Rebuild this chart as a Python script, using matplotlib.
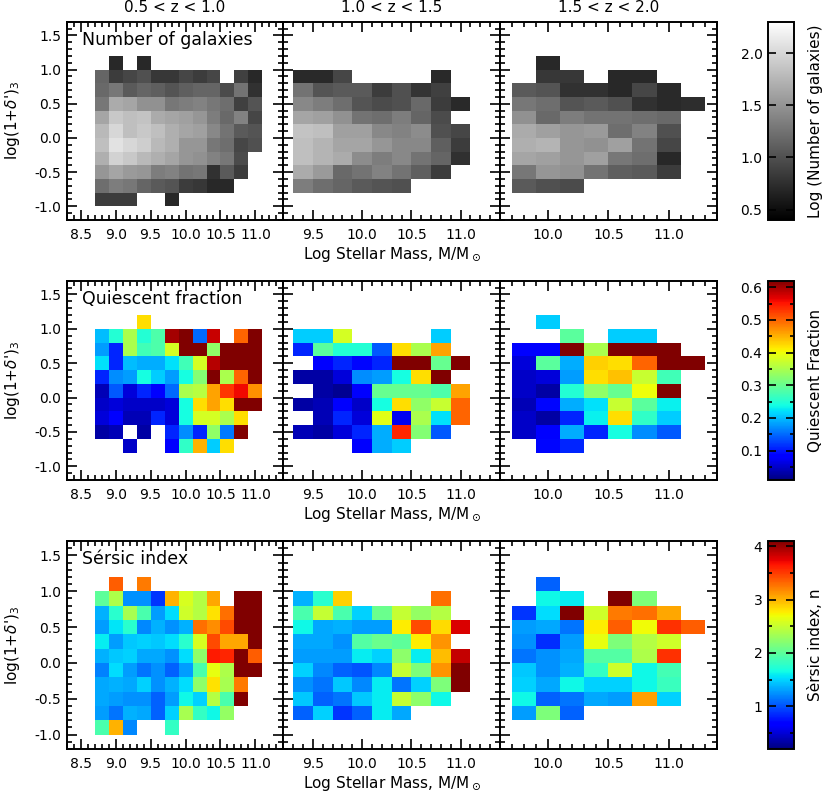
import numpy as np
import matplotlib
matplotlib.use('Agg')
import matplotlib.pyplot as plt
from matplotlib.ticker import MultipleLocator, FormatStrFormatter

N = np.nan

# ---------------- bins ----------------
mass_edges = [np.linspace(8.7, 11.1, 13), np.linspace(9.3, 11.1, 10), np.linspace(9.7, 11.3, 9)]
dens_edges = np.linspace(1.2, -1.0, 12)   # rows listed top -> bottom
z_labels = ['0.5 < z < 1.0', '1.0 < z < 1.5', '1.5 < z < 2.0']
xlims = [(8.3, 11.4), (9.2, 11.4), (9.6, 11.4)]

# ---------------- log(number of galaxies) ----------------
count_z1 = [
    [N, 0.70, N, 0.70, N, N, N, N, N, N, N, N],
    [1.15, 0.85, 0.92, 1.00, 0.81, 0.81, 0.92, 0.85, 0.92, N, 0.88, 0.70],
    [1.18, 1.29, 1.07, 1.15, 1.11, 1.03, 1.11, 1.15, 1.15, 0.96, 1.26, 0.77],
    [1.29, 1.67, 1.63, 1.48, 1.48, 1.29, 1.33, 1.37, 1.29, 1.22, 0.88, 1.03],
    [1.63, 1.89, 1.82, 1.85, 1.67, 1.63, 1.59, 1.52, 1.33, 1.18, 1.37, 0.92],
    [1.78, 2.00, 1.82, 1.89, 1.82, 1.70, 1.63, 1.59, 1.41, 1.26, 1.07, 1.03],
    [1.82, 2.08, 2.00, 1.93, 1.78, 1.70, 1.52, 1.52, 1.29, 1.22, 0.92, 1.00],
    [1.70, 1.96, 1.89, 1.78, 1.70, 1.63, 1.52, 1.48, 1.37, 1.29, 0.96, N],
    [1.52, 1.63, 1.55, 1.52, 1.33, 1.37, 1.26, 1.29, 0.77, 1.07, 0.85, N],
    [1.22, 1.33, 1.29, 1.15, 1.07, 1.03, 0.85, 0.81, 0.70, 0.70, N, N],
    [0.85, 0.85, 0.85, N, N, 0.70, N, N, N, N, N, N],
]
count_z2 = [
    [N, N, N, N, N, N, N, N, N],
    [0.71, 0.71, 0.92, N, N, N, N, 0.71, N],
    [1.26, 1.03, 1.07, 1.07, 0.85, 1.00, 0.79, 0.88, N],
    [1.41, 1.33, 1.22, 1.03, 0.96, 1.00, 1.18, 0.85, 0.71],
    [1.63, 1.59, 1.48, 1.26, 1.22, 1.33, 1.15, 0.96, N],
    [1.85, 1.82, 1.59, 1.59, 1.41, 1.37, 1.44, 1.00, 0.92],
    [1.82, 1.74, 1.63, 1.63, 1.52, 1.41, 1.41, 1.11, 0.85],
    [1.82, 1.74, 1.67, 1.44, 1.33, 1.41, 1.26, 1.15, 0.76],
    [1.67, 1.55, 1.18, 1.26, 1.37, 1.26, 1.11, 0.85, N],
    [1.33, 1.22, 1.15, 1.07, 1.03, 1.00, N, N, N],
    [N, N, N, N, N, N, N, N, N],
]
count_z3 = [
    [N, 0.70, N, N, N, N, N, N],
    [N, 0.81, 0.81, N, 0.70, 0.70, N, N],
    [1.07, 1.03, 0.77, 0.77, 0.70, 0.92, 0.71, N],
    [1.29, 1.22, 1.03, 1.07, 1.00, 0.77, 0.71, 0.74],
    [1.48, 1.18, 1.33, 1.26, 1.26, 1.22, 1.18, N],
    [1.67, 1.59, 1.52, 1.55, 1.22, 1.37, 1.00, N],
    [1.70, 1.74, 1.52, 1.48, 1.59, 1.26, 0.92, N],
    [1.63, 1.59, 1.52, 1.59, 1.29, 1.22, 0.70, N],
    [1.29, 1.52, 1.48, 1.26, 1.11, 1.07, 0.85, N],
    [1.07, 1.00, 0.96, N, N, N, N, N],
    [N, N, N, N, N, N, N, N],
]

# ---------------- quiescent fraction ----------------
qf_z1 = [
    [N, N, N, 0.42, N, N, N, N, N, N, N, N],
    [0.20, 0.25, 0.35, 0.25, 0.28, 0.60, 0.65, 0.15, 0.58, N, 0.50, 0.65],
    [0.18, 0.11, 0.35, 0.27, 0.28, 0.38, 0.65, 0.65, 0.33, 0.65, 0.65, 0.65],
    [0.22, 0.11, 0.20, 0.19, 0.19, 0.22, 0.27, 0.38, 0.59, 0.65, 0.65, 0.65],
    [0.11, 0.17, 0.18, 0.24, 0.21, 0.18, 0.24, 0.32, 0.65, 0.35, 0.50, 0.65],
    [0.04, 0.14, 0.06, 0.11, 0.08, 0.15, 0.35, 0.36, 0.46, 0.53, 0.56, 0.47],
    [0.05, 0.06, 0.05, 0.05, 0.05, 0.06, 0.24, 0.42, 0.46, 0.42, 0.65, 0.65],
    [0.06, 0.08, 0.04, 0.04, 0.11, 0.06, 0.24, 0.38, 0.38, 0.35, 0.42, N],
    [0.03, 0.04, N, 0.03, N, 0.11, 0.17, 0.11, 0.33, 0.16, 0.65, N],
    [N, N, 0.05, N, N, 0.08, 0.26, 0.45, 0.21, 0.42, N, N],
    [N, N, N, N, N, N, N, N, N, N, N, N],
]
qf_z2 = [
    [N, N, N, N, N, N, N, N, N],
    [0.21, 0.21, 0.38, N, N, N, N, 0.21, N],
    [0.11, 0.29, 0.25, 0.25, 0.14, 0.42, 0.35, 0.46, N],
    [N, 0.08, 0.11, 0.09, 0.11, 0.65, 0.65, 0.30, 0.65],
    [0.03, 0.03, 0.06, 0.17, 0.18, 0.24, 0.42, 0.65, N],
    [N, 0.03, 0.02, 0.08, 0.30, 0.30, 0.30, 0.28, 0.46],
    [0.03, 0.04, 0.08, 0.05, 0.24, 0.42, 0.33, 0.37, 0.50],
    [N, 0.04, 0.11, 0.06, 0.39, 0.07, 0.35, 0.22, 0.50],
    [0.04, 0.03, 0.06, 0.11, 0.19, 0.54, 0.32, 0.14, N],
    [N, N, N, 0.08, 0.19, 0.21, N, N, N],
    [N, N, N, N, N, N, N, N, N],
]
qf_z3 = [
    [N, 0.21, N, N, N, N, N, N],
    [N, N, 0.29, N, 0.21, 0.21, N, N],
    [0.08, 0.08, 0.65, 0.35, 0.65, 0.65, 0.62, N],
    [0.06, 0.29, 0.19, 0.43, 0.42, 0.50, 0.65, 0.65],
    [0.05, 0.06, 0.18, 0.42, 0.44, 0.37, 0.27, N],
    [0.05, 0.03, 0.25, 0.33, 0.30, 0.40, 0.65, N],
    [0.04, 0.09, 0.19, 0.22, 0.37, 0.29, 0.23, N],
    [0.05, 0.03, 0.11, 0.23, 0.42, 0.26, 0.21, N],
    [0.05, 0.08, 0.19, 0.11, 0.24, 0.17, 0.14, N],
    [N, 0.09, 0.11, N, N, N, N, N],
    [N, N, N, N, N, N, N, N],
]

# ---------------- Sersic index ----------------
sersic_z1 = [
    [N, 3.36, N, 3.24, N, N, N, N, N, N, N, N],
    [2.00, 2.38, 1.25, 1.25, 0.90, 3.01, 2.58, 2.42, 3.05, N, 4.30, 4.30],
    [1.37, 1.76, 2.35, 1.92, 1.29, 1.53, 2.54, 2.42, 2.81, 3.28, 4.30, 4.30],
    [1.29, 1.57, 1.76, 1.21, 1.37, 1.25, 1.37, 3.28, 3.16, 3.44, 4.30, 4.30],
    [1.60, 1.29, 1.45, 1.49, 1.45, 1.53, 1.76, 2.58, 3.44, 3.05, 3.05, 4.30],
    [1.37, 1.45, 1.49, 1.33, 1.33, 1.25, 1.53, 2.23, 3.63, 3.59, 4.30, 3.36],
    [1.18, 1.53, 1.29, 1.14, 1.25, 1.06, 1.29, 1.92, 2.66, 2.38, 4.30, 4.30],
    [1.33, 1.37, 1.33, 1.49, 1.25, 1.37, 1.53, 2.23, 2.81, 2.35, 3.24, N],
    [1.33, 1.29, 1.25, 1.25, 1.06, 1.29, 1.64, 1.49, 2.42, 1.92, 4.30, N],
    [1.29, 1.14, 1.37, 1.33, 1.06, 1.49, 2.35, 1.80, 1.64, 2.27, N, N],
    [1.92, 3.01, 1.21, N, N, 1.80, N, N, N, N, N, N],
]
sersic_z2 = [
    [N, N, N, N, N, N, N, N, N],
    [1.37, 1.76, 2.89, N, N, N, N, 3.28, N],
    [1.92, 2.50, 1.92, 1.49, 2.07, 2.50, 2.27, 2.42, N],
    [1.64, 1.33, 1.37, 1.29, 1.29, 2.77, 3.44, 2.85, 3.79],
    [1.33, 1.33, 1.25, 1.96, 2.07, 2.00, 2.77, 3.13, N],
    [1.29, 1.29, 1.29, 1.60, 1.49, 2.23, 1.60, 2.97, 3.87],
    [1.49, 1.21, 1.06, 1.02, 1.21, 2.50, 2.15, 3.13, 4.30],
    [1.25, 1.14, 1.45, 1.21, 1.60, 1.14, 1.49, 2.15, 4.30],
    [1.45, 1.06, 1.14, 1.45, 1.60, 2.50, 2.23, 1.64, N],
    [1.06, 1.49, 0.90, 1.06, 1.60, 1.33, N, N, N],
    [N, N, N, N, N, N, N, N, N],
]
sersic_z3 = [
    [N, 1.06, N, N, N, N, N, N],
    [N, 1.64, 1.60, N, 4.30, 2.15, N, N],
    [0.90, 1.53, 4.30, 2.54, 3.24, 3.28, 3.05, N],
    [1.29, 1.33, 1.14, 2.77, 3.36, 2.70, 3.55, 3.36],
    [1.25, 0.86, 1.29, 2.66, 2.15, 2.42, 2.54, N],
    [1.14, 1.25, 1.33, 1.96, 1.96, 2.38, 3.55, N],
    [1.45, 1.25, 1.37, 1.80, 2.54, 1.64, 1.88, N],
    [1.49, 1.33, 1.64, 1.49, 1.49, 1.64, 1.84, N],
    [1.64, 1.06, 1.14, 1.33, 1.29, 3.09, 1.49, N],
    [1.29, 2.15, 1.06, N, N, N, N, N],
    [N, N, N, N, N, N, N, N],
]

rows = [
    dict(data=[count_z1, count_z2, count_z3], cmap='gray', vmin=0.4, vmax=2.3,
         label='Number of galaxies', cblabel='Log (Number of galaxies)',
         cbmajor=0.5, cbminor=None, fmt='%.1f'),
    dict(data=[qf_z1, qf_z2, qf_z3], cmap='jet', vmin=0.01, vmax=0.62,
         label='Quiescent fraction', cblabel='Quiescent Fraction',
         cbmajor=0.1, cbminor=0.05, fmt='%.1f'),
    dict(data=[sersic_z1, sersic_z2, sersic_z3], cmap='jet', vmin=0.2, vmax=4.1,
         label='Sérsic index', cblabel='Sèrsic index, n',
         cbmajor=1.0, cbminor=0.5, fmt='%d'),
]

W, H = 830, 794
fig = plt.figure(figsize=(W / 100, H / 100), dpi=100)
plt.rcParams['font.family'] = ['DejaVu Sans']
plt.rcParams['mathtext.fontset'] = 'dejavusans'

col_left = [66.7, 283.3, 500.0]
col_w = 216.7
row_span = [(21.7, 220.0), (280.7, 480.0), (541.0, 749.0)]
cb_left, cb_w = 768.0, 26.0
LW = 1.4

for r, spec in enumerate(rows):
    top, bot = row_span[r]
    b = 1 - bot / H
    h = (bot - top) / H
    mesh = None
    for c in range(3):
        ax = fig.add_axes([col_left[c] / W, b, col_w / W, h])
        C = np.array(spec['data'][c], dtype=float)
        mesh = ax.pcolormesh(mass_edges[c], dens_edges, C, cmap=spec['cmap'],
                             vmin=spec['vmin'], vmax=spec['vmax'], shading='flat')
        ax.set_xlim(*xlims[c])
        ax.set_ylim(-1.2, 1.7)
        ax.xaxis.set_major_locator(MultipleLocator(0.5))
        ax.xaxis.set_minor_locator(MultipleLocator(0.1))
        ax.yaxis.set_major_locator(MultipleLocator(0.5))
        ax.yaxis.set_minor_locator(MultipleLocator(0.1))
        ax.xaxis.set_major_formatter(FormatStrFormatter('%.1f'))
        ax.yaxis.set_major_formatter(FormatStrFormatter('%.1f'))
        ax.tick_params(which='both', direction='in', top=True, right=True,
                       width=1.2, labelsize=10, colors='black')
        ax.tick_params(which='major', length=7)
        ax.tick_params(which='minor', length=3.5)
        ax.tick_params(axis='x', which='major', pad=6)
        ax.tick_params(axis='y', which='major', pad=4)
        if c > 0:
            ax.tick_params(labelleft=False)
        for s in ax.spines.values():
            s.set_linewidth(LW)
        if c == 0:
            ax.text(0.07, 0.955, spec['label'], transform=ax.transAxes,
                    va='top', ha='left', fontsize=12.5)
            fig.text(12 / W, b + h / 2, r"log(1+$\delta$')$_3$", rotation=90,
                     ha='center', va='center', fontsize=11)
        if c == 1:
            ax.set_xlabel(r'Log Stellar Mass, M/M$_\odot$', fontsize=11, labelpad=2)
        if r == 0:
            fig.text((col_left[c] + col_w / 2) / W, 1 - 8 / H, z_labels[c],
                     ha='center', va='center', fontsize=11)
    cax = fig.add_axes([cb_left / W, b, cb_w / W, h])
    cb = fig.colorbar(mesh, cax=cax)
    cb.outline.set_linewidth(LW)
    cax.yaxis.set_ticks_position('both')
    cax.yaxis.set_major_locator(MultipleLocator(spec['cbmajor']))
    if spec['cbminor']:
        cax.yaxis.set_minor_locator(MultipleLocator(spec['cbminor']))
    cax.yaxis.set_major_formatter(FormatStrFormatter(spec['fmt']))
    cax.tick_params(which='both', direction='in', left=True, right=True,
                    labelleft=True, labelright=False, width=1.2, labelsize=10, pad=4)
    cax.tick_params(which='major', length=6)
    cax.tick_params(which='minor', length=3)
    fig.text(815 / W, b + h / 2, spec['cblabel'], rotation=90,
             ha='center', va='center', fontsize=11)

fig.savefig('out.png', dpi=100)
